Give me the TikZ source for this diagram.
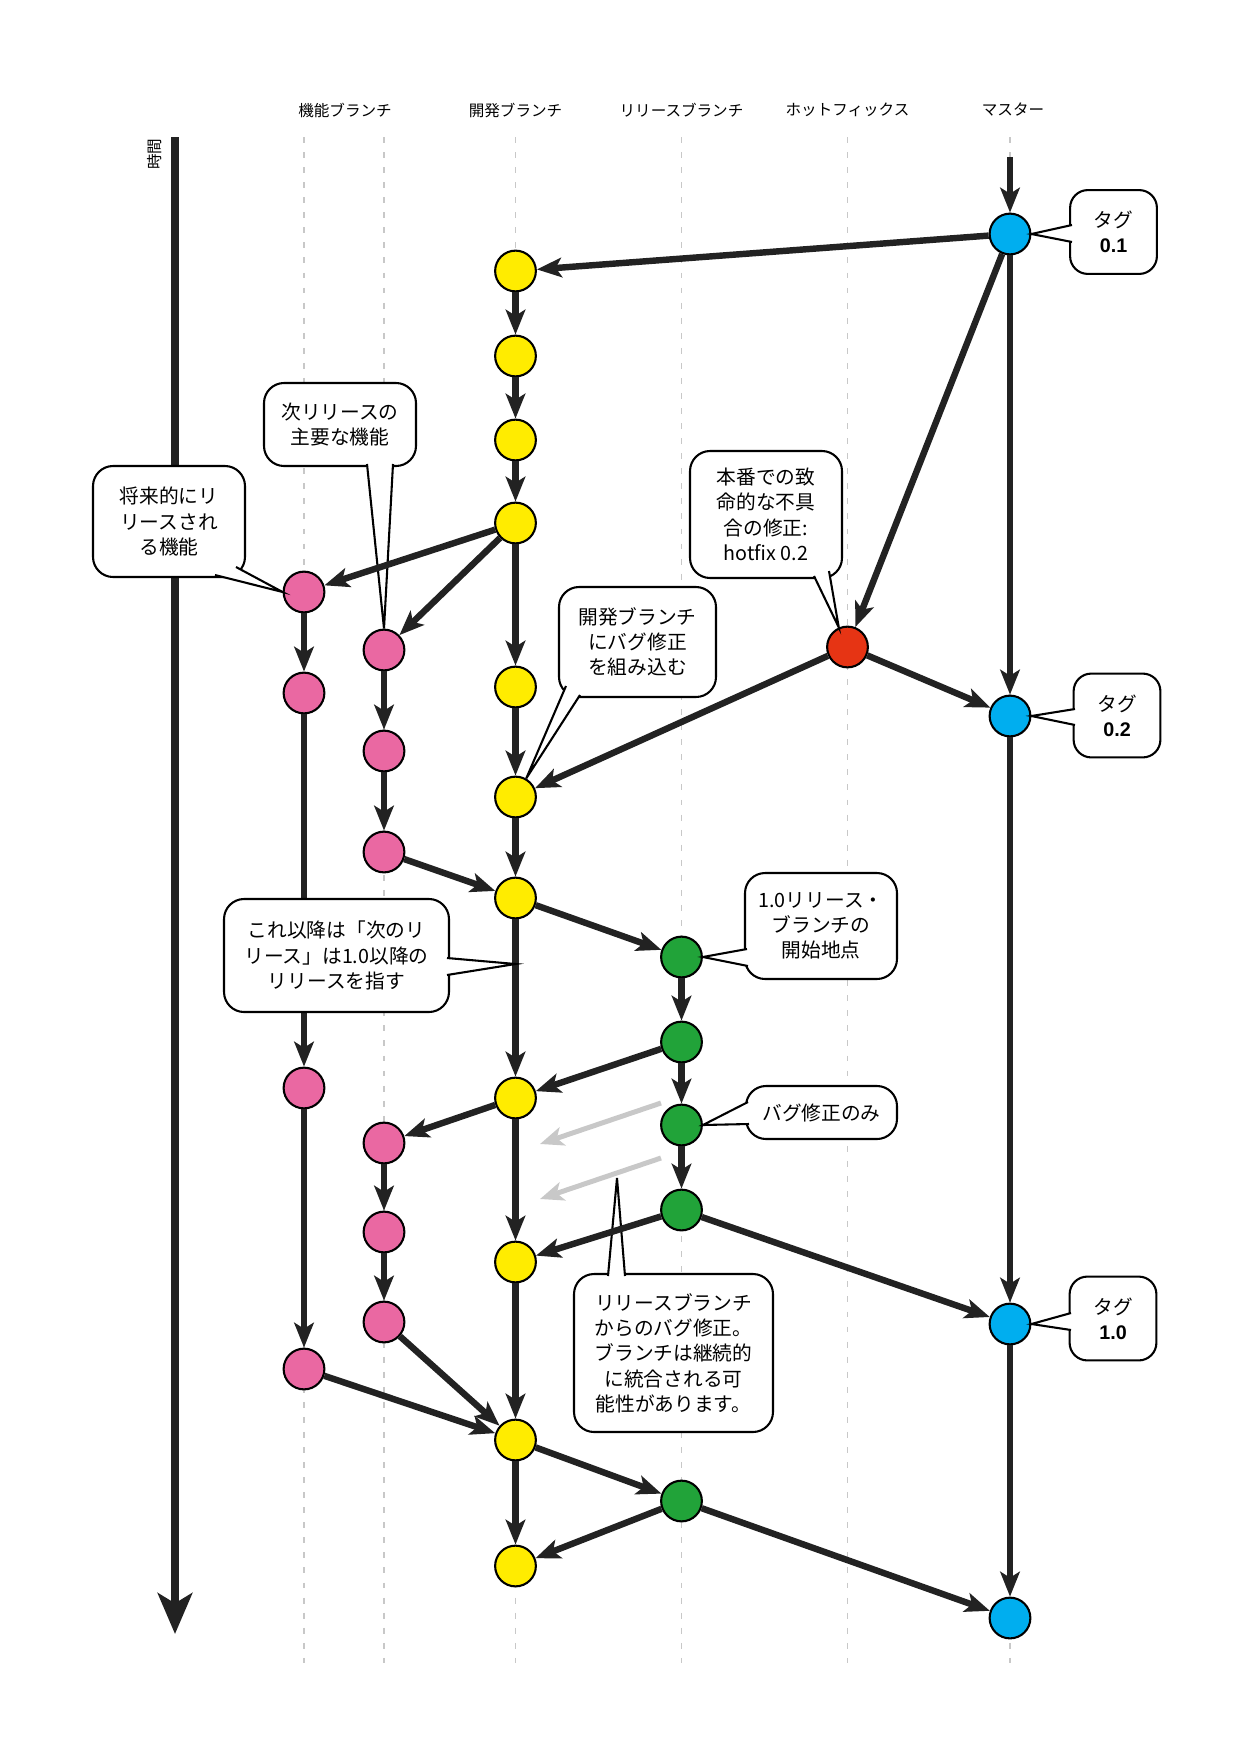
\documentclass[tikz,border=0pt]{standalone}
\usepackage{fontspec}
\setmainfont{Noto Sans CJK JP}
\newfontfamily\tagfont{Liberation Sans}
\usepackage{tikz}
\usetikzlibrary{arrows.meta,calc}

\definecolor{devyellow}{RGB}{255,236,0}
\definecolor{featpink}{RGB}{234,104,162}
\definecolor{relgreen}{RGB}{33,163,57}
\definecolor{masterblue}{RGB}{0,174,239}
\definecolor{hotred}{RGB}{230,52,20}
\definecolor{ink}{RGB}{34,34,34}
\definecolor{lanegray}{RGB}{200,200,200}

\newcommand{\pointer}[3]{%
	\fill[white] #1 -- #3 -- #2 -- cycle;
	\draw[noteedge] #1 -- #3 -- #2;}

\begin{document}
\begin{tikzpicture}[x=0.1693548mm, y=-0.1693548mm,
	commit/.style={circle, draw=black, line width=1pt, minimum size=0.69cm, inner sep=0pt},
	dev/.style={commit, fill=devyellow},
	feature/.style={commit, fill=featpink},
	release/.style={commit, fill=relgreen},
	master/.style={commit, fill=masterblue},
	hotfix/.style={commit, fill=hotred},
	flow/.style={draw=ink, line width=3.1pt, -{Stealth[length=0.42cm, width=0.33cm, inset=0.1cm]}},
	backport/.style={draw=lanegray, line width=2.4pt, -{Stealth[length=0.4cm, width=0.32cm, inset=0.1cm]}},
	lane/.style={draw=lanegray, line width=0.7pt, dash pattern=on 0.1cm off 0.155cm},
	lanelabel/.style={font=\fontsize{7.5pt}{9pt}\selectfont},
	note/.style={draw=black, fill=white, line width=1pt, rounded corners=0.34cm, align=center, inner sep=0pt, font=\fontsize{9.5pt}{12.2pt}\selectfont},
	noteedge/.style={draw=black, line width=1pt, line join=miter},
	tag/.style={note, minimum width=1.47cm, minimum height=1.42cm, rounded corners=0.3cm}]
	\useasboundingbox (0,0) rectangle (1240,1754);
	\foreach \x in {304,384,515.5,681.5,847.5,1010}
		\draw[lane] (\x,137) -- (\x,1663);
	\coordinate (tstart) at (175,137);
	\coordinate (tend) at (175,1634);
	\draw[draw=ink, line width=4.2pt, -{Stealth[length=0.69cm, width=0.58cm, inset=0.17cm]}] (tstart) -- (tend);
	\node[lanelabel, rotate=90] (timelabel) at (155,154) {時間};
	\node[lanelabel] (featlabel) at (345,110) {機能ブランチ};
	\node[lanelabel] (devlabel) at (515.5,110) {開発ブランチ};
	\node[lanelabel] (rellabel) at (681.5,110) {リリースブランチ};
	\node[lanelabel] (hotlabel) at (847.5,110) {ホットフィックス};
	\node[lanelabel] (masterlabel) at (1013,110) {マスター};

	\coordinate (mtop) at (1010,157);
	\node[master] (M1) at (1010,234) {};
	\node[master] (M2) at (1010,716) {};
	\node[master] (M3) at (1010,1324) {};
	\node[master] (M4) at (1010,1618) {};
	\node[hotfix] (H1) at (847.5,647) {};
	\foreach \n/\y in {1/271,2/356,3/440,4/523,5/687,6/797,7/898,8/1098,9/1262,10/1440,11/1566}
		\node[dev] (D\n) at (515.5,\y) {};
	\foreach \n/\y in {a/592,b/693,c/1088,d/1369}
		\node[feature] (F1\n) at (304,\y) {};
	\foreach \n/\y in {1/650,2/751,3/852,4/1143,5/1232,6/1322}
		\node[feature] (G\n) at (384,\y) {};
	\foreach \n/\y in {1/957,2/1042,3/1125,4/1210,5/1501}
		\node[release] (R\n) at (681.5,\y) {};

	\node[note, minimum width=2.574cm, minimum height=1.406cm] (nextmain) at (340,424.5) {次リリースの\\主要な機能};
	\pointer{(367,464)}{(393,464)}{(G1.north)}
	\node[note, minimum width=2.574cm, minimum height=1.88cm] (future) at (169,521.5) {将来的にリ\\リースされ\\る機能};
	\pointer{(236,567)}{(215,575)}{(F1a.west)}
	\node[note, minimum width=2.574cm, minimum height=2.151cm] (hotnote) at (766,514.5) {本番での致\\命的な不具\\合の修正:\\hotfix 0.2};
	\pointer{(814,576)}{(829,571)}{(H1.114)}
	\node[note, minimum width=2.659cm, minimum height=1.863cm] (mergenote) at (637.5,642) {開発ブランチ\\にバグ修正\\を組み込む};
	\pointer{(566,686)}{(580,695)}{(D6.60)}
	\node[note, minimum width=2.574cm, minimum height=1.795cm] (startnote) at (821,926) {1.0リリース・\\ブランチの\\開始地点};
	\pointer{(747,949)}{(748,966)}{(R1.east)}
	\node[note, minimum width=2.557cm, minimum height=0.898cm] (fixonly) at (821.5,1112.5) {バグ修正のみ};
	\pointer{(748,1102)}{(749,1124)}{(R3.east)}
	\coordinate (fixtip) at (617,1178);
	\node[note, minimum width=3.37cm, minimum height=2.676cm] (relfix) at (673.5,1353) {リリースブランチ\\からのバグ修正。\\ブランチは継続的\\に統合される可\\能性があります。};
	\pointer{(608,1276)}{(625,1276)}{(fixtip)}
	\node[tag] (tag01) at (1113.5,232) {タグ\\{\tagfont\bfseries 0.1}};
	\pointer{(1072,225)}{(1072,242)}{(M1.east)}
	\node[tag] (tag02) at (1117,715.5) {タグ\\{\tagfont\bfseries 0.2}};
	\pointer{(1075,709)}{(1075,725)}{(M2.east)}
	\node[tag] (tag10) at (1113,1318.5) {タグ\\{\tagfont\bfseries 1.0}};
	\pointer{(1071,1313)}{(1071,1330)}{(M3.east)}

	\foreach \a/\b in {mtop/M1, M1/D1, M1/H1, M1/M2, D1/D2, D2/D3, D3/D4, D4/F1a, D4/G1, D4/D5,
		F1a/F1b, F1b/F1c, F1c/F1d, F1d/D10, G1/G2, G2/G3, G3/D7, D5/D6, D6/D7, H1/D6, H1/M2,
		D7/R1, D7/D8, R1/R2, R2/R3, R3/R4, R2/D8, D8/G4, G4/G5, G5/G6, G6/D10, D8/D9, D9/D10,
		R4/D9, R4/M3, M2/M3, M3/M4, D10/R5, D10/D11, R5/D11, R5/M4}
		\draw[flow] (\a) -- (\b);
	\coordinate (bp1s) at (661,1103);
	\coordinate (bp1e) at (540,1144);
	\coordinate (bp2s) at (661,1158);
	\coordinate (bp2e) at (540,1199);
	\draw[backport] (bp1s) -- (bp1e);
	\draw[backport] (bp2s) -- (bp2e);

	\coordinate (devmid) at (515.5,964);
	\node[note, minimum width=3.81cm, minimum height=1.914cm] (nextnote) at (336.5,955.5) {これ以降は「次のリ\\リース」は1.0以降の\\リリースを指す};
	\pointer{(447,958)}{(447,975)}{(devmid)}
\end{tikzpicture}
\end{document}
